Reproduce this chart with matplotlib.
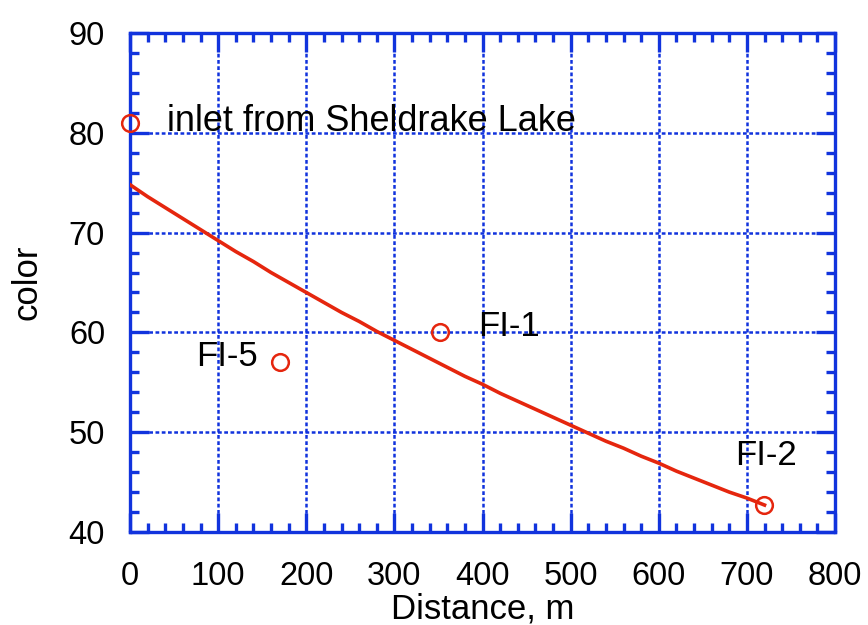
import matplotlib.pyplot as plt
from matplotlib.ticker import MultipleLocator

plt.rcParams['font.family'] = ['Liberation Sans', 'DejaVu Sans']

# fitted curve (distance in m, color)
curve_x = [0, 20, 40, 60, 80, 100, 120, 140, 160, 180, 200, 220, 240, 260, 280,
           300, 320, 340, 360, 380, 400, 420, 440, 460, 480, 500, 520, 540, 560,
           580, 600, 620, 640, 660, 680, 700, 720]
curve_y = [74.8, 73.6, 72.5, 71.4, 70.3, 69.2, 68.1, 67.1, 66.0, 65.0, 64.0, 63.0,
           62.0, 61.1, 60.1, 59.2, 58.3, 57.4, 56.5, 55.6, 54.8, 53.9, 53.1, 52.3,
           51.5, 50.7, 49.9, 49.1, 48.4, 47.6, 46.9, 46.1, 45.4, 44.7, 44.0, 43.4,
           42.7]

# sampled points
site_names = ["inlet from Sheldrake Lake", "FI-5", "FI-1", "FI-2"]
site_x = [0, 170, 352, 719]
site_y = [81, 57, 60, 42.7]

RED = "#e5260e"
BLUE = "#1133dd"

fig = plt.figure(figsize=(8.68, 6.25), dpi=100)
ax = fig.add_axes([0.1498, 0.1488, 0.8122, 0.7984])

ax.plot(curve_x, curve_y, color=RED, lw=2.6, zorder=3)
ax.plot(site_x, site_y, "o", mfc="none", mec=RED, mew=1.8, ms=12, zorder=4,
        clip_on=False)

ax.text(42, 81.1, site_names[0], fontsize=26, va="center", ha="left")
ax.text(145, 57.6, site_names[1], fontsize=25, va="center", ha="right")
ax.text(395, 60.6, site_names[2], fontsize=25, va="center", ha="left")
ax.text(687, 47.7, site_names[3], fontsize=25, va="center", ha="left")

ax.set_xlim(0, 800)
ax.set_ylim(40, 90)
ax.xaxis.set_major_locator(MultipleLocator(100))
ax.xaxis.set_minor_locator(MultipleLocator(20))
ax.yaxis.set_major_locator(MultipleLocator(10))
ax.yaxis.set_minor_locator(MultipleLocator(2))

ax.grid(True, which="major", color=BLUE, linestyle=(0, (1.5, 1)), lw=1.8)
ax.tick_params(which="both", direction="in", top=True, right=True,
               color=BLUE, width=2.4)
ax.tick_params(which="major", length=14, labelsize=23.5)
ax.tick_params(axis="x", which="major", pad=21)
ax.tick_params(axis="y", which="major", pad=18)
ax.tick_params(which="minor", length=6.5)
for s in ax.spines.values():
    s.set_color(BLUE)
    s.set_linewidth(2.4)

ax.set_xlabel("Distance, m", fontsize=25, labelpad=0)
ax.set_ylabel("color", fontsize=25, labelpad=18)

fig.savefig("out.png", dpi=100)
